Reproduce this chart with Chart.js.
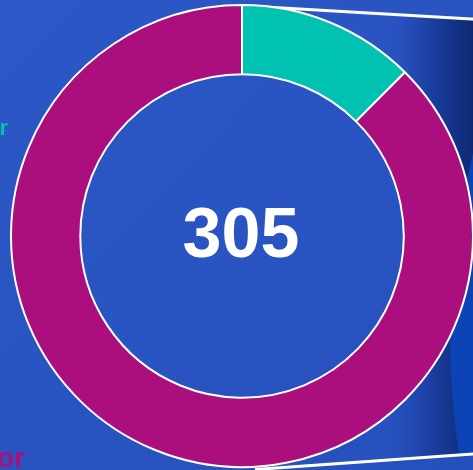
<!DOCTYPE html>
<html>
<head>
<meta charset="utf-8">
<script src="https://cdn.jsdelivr.net/npm/chart.js@4"></script>
<style>
  html, body { margin:0; padding:0; overflow:hidden; background:#2a55c2; }
  #wrap { width:480px; height:470px; }
</style>
</head>
<body>
<div id="wrap"><canvas id="donut" width="480" height="470"></canvas></div>
<script>
const labels = ["r", "or"];
const values = [38, 267];
const colors = ["#00c2b0", "#ab0f7d"];
const total  = values.reduce((a, b) => a + b, 0);

function pageGradient(ctx) {
  const bg = ctx.createLinearGradient(0, 0, 480, 470);
  bg.addColorStop(0, "#2c58c7");
  bg.addColorStop(1, "#2550bc");
  return bg;
}

// backdrop: blue page, darker funnel towards the right, white connector lines
const backdrop = {
  id: "backdrop",
  beforeDraw(chart) {
    const ctx = chart.ctx;
    ctx.save();
    ctx.fillStyle = pageGradient(ctx);
    ctx.fillRect(0, 0, 480, 470);

    ctx.beginPath();
    ctx.moveTo(330, 10.5);
    ctx.lineTo(480, 19);
    ctx.lineTo(480, 453);
    ctx.lineTo(330, 463);
    ctx.closePath();
    const g = ctx.createLinearGradient(380, 0, 476, 0);
    g.addColorStop(0, "rgba(40,82,192,0)");
    g.addColorStop(0.55, "#1a3d9e");
    g.addColorStop(1, "#0d2870");
    ctx.fillStyle = g;
    ctx.fill();
    ctx.clip();
    ctx.beginPath();
    ctx.arc(1205, 338, 755, 0, Math.PI * 2);
    ctx.fillStyle = "#0c43b5";
    ctx.fill();
    ctx.restore();

    ctx.save();
    ctx.strokeStyle = "#ffffff";
    ctx.lineWidth = 3;
    ctx.beginPath();
    ctx.moveTo(248, 6);
    ctx.lineTo(480, 19.5);
    ctx.moveTo(255, 469.5);
    ctx.lineTo(480, 453.5);
    ctx.stroke();
    ctx.restore();
  },
  beforeDatasetsDraw(chart) {
    // keep the hole of the ring in the page colour
    const arc = chart.getDatasetMeta(0).data[0];
    const ctx = chart.ctx;
    ctx.save();
    ctx.beginPath();
    ctx.arc(arc.x, arc.y, arc.innerRadius, 0, Math.PI * 2);
    ctx.fillStyle = pageGradient(ctx);
    ctx.fill();
    ctx.restore();
  },
  afterDraw(chart) {
    const ctx = chart.ctx;
    ctx.save();
    ctx.fillStyle = "#ffffff";
    ctx.textAlign = "center";
    ctx.textBaseline = "alphabetic";
    ctx.font = "bold 70px 'Liberation Sans', Arial, sans-serif";
    ctx.fillText(String(total), 241, 257);

    ctx.textAlign = "right";
    ctx.fillStyle = colors[0];
    ctx.font = "bold 22px 'Liberation Sans', Arial, sans-serif";
    ctx.fillText(labels[0], 8, 135);
    ctx.fillStyle = colors[1];
    ctx.font = "bold 28px 'Liberation Sans', Arial, sans-serif";
    ctx.fillText(labels[1], 25, 467);
    ctx.restore();
  }
};

new Chart(document.getElementById("donut"), {
  type: "doughnut",
  data: {
    labels,
    datasets: [{
      data: values,
      backgroundColor: colors,
      borderColor: "#ffffff",
      borderWidth: 2,
      hoverOffset: 0
    }]
  },
  options: {
    responsive: false,
    animation: false,
    cutout: "70%",
    layout: { padding: { left: 10, right: 6, top: 4, bottom: 2 } },
    plugins: { legend: { display: false }, tooltip: { enabled: false } }
  },
  plugins: [backdrop]
});
</script>
</body>
</html>
